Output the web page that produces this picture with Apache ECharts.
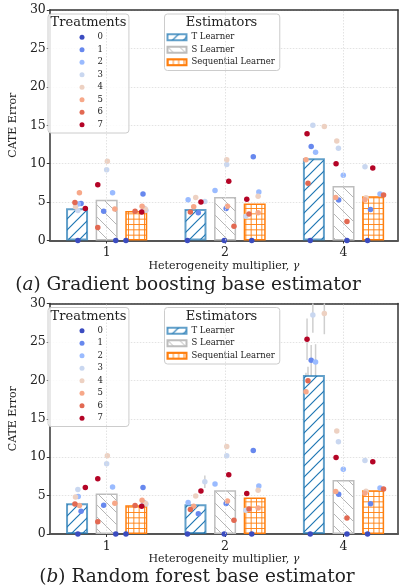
<!DOCTYPE html>
<html>
<head>
<meta charset="utf-8">
<script src="https://cdn.jsdelivr.net/npm/echarts@6/dist/echarts.min.js"></script>
<style>
html, body { margin: 0; padding: 0; background: #fff; }
#main { width: 399px; height: 588px; }
</style>
</head>
<body>
<div id="main"></div>
<script>
const groups = ['1', '2', '4'];
const estimators = ['T Learner', 'S Learner', 'Sequential Learner'];
const treatments = ['0', '1', '2', '3', '4', '5', '6', '7'];
const treatColors = ['#3b4cc0', '#6788ee', '#9abbff', '#c9d7f0', '#edd1c2', '#f7a889', '#e26952', '#b40426'];

// bar heights (mean CATE error), one per gamma group
const gbT = [4.2, 4.1, 10.7];
const gbS = [5.3, 5.65, 7.1];
const gbSeq = [3.85, 4.8, 5.75];
const rfT = [4.0, 3.87, 20.7];
const rfS = [5.26, 5.7, 7.04];
const rfSeq = [3.74, 4.74, 5.7];

// per-treatment errors, [group][treatment]
const gbPtsT = [[0, 4.8, 4.75, 3.9, 4.4, 6.2, 4.95, 4.15], [0, 3.6, 5.3, 5.06, 5.6, 4.4, 3.7, 5.0], [0, 12.25, 11.5, 15.0, 14.85, 10.5, 7.45, 13.9]];
const gbPtsS = [[0, 3.8, 6.2, 9.2, 10.3, 4.1, 1.7, 7.27], [0, 4.15, 6.5, 9.9, 10.5, 4.45, 1.86, 7.7], [0, 5.28, 8.5, 12.0, 12.95, 5.6, 2.47, 10.0]];
const gbPtsSeq = [[0, 6.06, 4.2, 3.95, 4.1, 4.45, 3.8, 3.7], [0, 10.9, 6.3, 3.16, 5.75, 3.6, 3.46, 5.37], [0, 4.03, 6.06, 9.6, 5.55, 5.3, 5.93, 9.44]];
const rfPtsT = [[0, 2.96, 4.87, 5.78, 4.8, 3.7, 3.9, 6.04], [0, 2.65, 4.1, 6.8, 4.96, 3.6, 3.2, 5.6], [0, 22.6, 22.4, 28.5, 28.7, 18.5, 19.96, 25.35]];
const rfPtsS = [[0, 3.74, 6.13, 9.13, 10.2, 4.0, 1.6, 7.2], [0, 3.96, 6.5, 10.2, 11.4, 4.3, 1.78, 7.7], [0, 5.17, 8.43, 12.0, 13.4, 5.52, 2.09, 9.96]];
const rfPtsSeq = [[0, 6.05, 4.1, 3.9, 4.0, 4.4, 3.7, 3.6], [0, 10.87, 6.26, 3.1, 5.7, 3.4, 3.26, 5.26], [0, 3.95, 6.0, 9.57, 5.55, 5.3, 5.87, 9.4]];
// error bar half-lengths (only visible for the random forest T learner)
const gbErrT = [[0, 0, 0, 0, 0, 0, 0, 0], [0, 0, 0, 0, 0, 0, 0, 0], [0, 0, 0, 0, 0, 0, 0, 0]];
const rfErrT = [[0, 0, 0, 0, 0, 0, 0, 0], [0, 0, 0, 0.8, 0, 0, 0, 0], [0, 2.0, 2.3, 2.3, 2.7, 2.5, 1.8, 2.7]];

// dot jitter, in group units from the group centre
const jitT = [[-0.243, -0.216, -0.240, -0.243, -0.263, -0.230, -0.268, -0.180], [-0.318, -0.226, -0.312, -0.171, -0.248, -0.265, -0.293, -0.204], [-0.281, -0.273, -0.236, -0.259, -0.162, -0.317, -0.300, -0.308]];
const jitS = [[0.077, -0.025, 0.050, 0.0, 0.006, 0.069, -0.075, -0.075], [-0.007, 0.009, -0.085, 0.014, 0.014, 0.020, 0.075, 0.031], [0.029, -0.041, -0.002, -0.043, -0.057, -0.066, 0.029, -0.063]];
const jitSeq = [[0.163, 0.307, 0.315, 0.332, 0.326, 0.299, 0.240, 0.296], [0.225, 0.238, 0.285, 0.175, 0.279, 0.279, 0.202, 0.183], [0.203, 0.228, 0.308, 0.181, 0.19, 0.18, 0.338, 0.247]];
const barOffset = [-0.25, 0, 0.25];

const SERIF = "'DejaVu Serif', serif";

function tile(size, draw) {
  const c = document.createElement('canvas');
  c.width = size; c.height = size;
  const ctx = c.getContext('2d');
  ctx.fillStyle = '#fff';
  ctx.fillRect(0, 0, size, size);
  draw(ctx, size);
  return { image: c, repeat: 'repeat' };
}
function segs(ctx, list) {
  ctx.beginPath();
  list.forEach(s => { ctx.moveTo(s[0], s[1]); ctx.lineTo(s[2], s[3]); });
  ctx.stroke();
}
const patT = tile(11, (ctx, s) => {
  ctx.strokeStyle = '#1f77b4'; ctx.lineWidth = 1.2;
  segs(ctx, [[-1, s + 1, s + 1, -1], [-1, 1, 1, -1], [s - 1, s + 1, s + 1, s - 1]]);
});
const patS = tile(12, (ctx, s) => {
  ctx.strokeStyle = '#b5b5b5'; ctx.lineWidth = 1;
  segs(ctx, [[-1, -1, s + 1, s + 1], [s - 1, -1, s + 1, 1], [-1, s - 1, 1, s + 1]]);
});
const patSeq = tile(16, (ctx, s) => {
  ctx.strokeStyle = 'rgba(255,127,14,0.9)'; ctx.lineWidth = 1;
  const l = [];
  [0.5, 5.83, 11.17].forEach(p => { l.push([p, 0, p, s]); l.push([0, p, s, p]); });
  segs(ctx, l);
});
const barStyles = [
  { color: patT, borderColor: 'rgba(31,119,180,0.7)', borderWidth: 2 },
  { color: patS, borderColor: '#bdbdbd', borderWidth: 1.5 },
  { color: patSeq, borderColor: '#ff7f0e', borderWidth: 1.5 }
];

const gridTops = [10, 303.5];

function plotSeries(p, bars, pts, jits, errs) {
  const out = [];
  // error bars + vertical grid lines
  const errData = [];
  errs.forEach((row, g) => row.forEach((e, t) => {
    errData.push([g + jits[0][g][t], pts[0][g][t], e]);
  }));
  out.push({
    type: 'custom', xAxisIndex: p, yAxisIndex: p, z: 1, silent: true,
    data: errData,
    renderItem: function (params, api) {
      const e = api.value(2);
      if (!e) return null;
      const x = api.value(0), v = api.value(1);
      const a = api.coord([x, Math.min(v + e, 30)]);
      const b = api.coord([x, v - e]);
      return { type: 'line', shape: { x1: a[0], y1: a[1], x2: b[0], y2: b[1] },
        style: { stroke: '#cfcfcf', lineWidth: 1.5 } };
    },
    markLine: {
      silent: true, symbol: 'none', label: { show: false },
      lineStyle: { color: '#dcdcdc', type: [1.5, 1.5], width: 0.8 },
      data: [{ xAxis: 0 }, { xAxis: 1 }, { xAxis: 2 }]
    }
  });
  bars.forEach((vals, k) => {
    out.push({
      type: 'bar', name: estimators[k], xAxisIndex: p, yAxisIndex: p,
      barWidth: 22, barGap: '-100%', z: 2, silent: true,
      data: vals.map((v, g) => [g + barOffset[k], v]),
      itemStyle: barStyles[k]
    });
  });
  treatments.forEach((name, t) => {
    const d = [];
    pts.forEach((est, k) => est.forEach((row, g) => d.push([g + jits[k][g][t], row[t]])));
    out.push({
      type: 'scatter', name: name, xAxisIndex: p, yAxisIndex: p, z: 4, silent: true,
      symbolSize: 5.5, itemStyle: { color: treatColors[t], opacity: 1 },
      data: d
    });
  });
  return out;
}

const jits = [jitT, jitS, jitSeq];
const series = [].concat(
  plotSeries(0, [gbT, gbS, gbSeq], [gbPtsT, gbPtsS, gbPtsSeq], jits, gbErrT),
  plotSeries(1, [rfT, rfS, rfSeq], [rfPtsT, rfPtsS, rfPtsSeq], jits, rfErrT)
);

const legendBox = {
  orient: 'vertical', selectedMode: false, itemGap: 1,
  borderColor: '#cccccc', borderWidth: 1, borderRadius: 3,
  backgroundColor: 'rgba(255,255,255,0.85)'
};
const legendText = { fontFamily: SERIF, fontSize: 8.5, color: '#222', lineHeight: 11.5 };
const legends = [];
const texts = [];
gridTops.forEach((top, p) => {
  legends.push(Object.assign({}, legendBox, {
    left: 48, top: top + 4, data: treatments, icon: 'circle',
    itemWidth: 5, itemHeight: 5, padding: [17.5, 26, 2.5, 31.5],
    textStyle: Object.assign({ padding: [0, 0, 0, 8] }, legendText)
  }));
  legends.push(Object.assign({}, legendBox, {
    left: 164.5, top: top + 4, data: estimators, icon: 'rect',
    itemWidth: 19, itemHeight: 6, padding: [17.5, 5, 2.5, 2],
    textStyle: legendText
  }));
  texts.push({ type: 'text', x: 88.5, y: top + 13, z: 10,
    style: { text: 'Treatments', textAlign: 'center', textVerticalAlign: 'middle', font: "13px 'DejaVu Serif'", fill: '#222' } });
  texts.push({ type: 'text', x: 221.5, y: top + 13, z: 10,
    style: { text: 'Estimators', textAlign: 'center', textVerticalAlign: 'middle', font: "13px 'DejaVu Serif'", fill: '#222' } });
});
texts.push({ type: 'text', x: 188, y: 285, style: {
  text: '({i|a}) Gradient boosting base estimator', textAlign: 'center', textVerticalAlign: 'middle',
  font: "18.5px 'DejaVu Serif'", fill: '#222', rich: { i: { font: "italic 18.5px 'DejaVu Serif'", fill: '#222' } } } });
texts.push({ type: 'text', x: 197, y: 577, style: {
  text: '({i|b}) Random forest base estimator', textAlign: 'center', textVerticalAlign: 'middle',
  font: "18.5px 'DejaVu Serif'", fill: '#222', rich: { i: { font: "italic 18.5px 'DejaVu Serif'", fill: '#222' } } } });

// plain frame axes on the top and right of each panel
const topAxes = gridTops.map((t, p) => ({
  type: 'value', gridIndex: p, position: 'top', min: -0.48, max: 2.46,
  axisLine: { show: true, onZero: false, lineStyle: { color: '#333', width: 1.5 } },
  axisTick: { show: false }, axisLabel: { show: false }, splitLine: { show: false }
}));
const rightAxes = gridTops.map((t, p) => ({
  type: 'value', gridIndex: p, position: 'right', min: 0, max: 30,
  axisLine: { show: true, onZero: false, lineStyle: { color: '#333', width: 1.5 } },
  axisTick: { show: false }, axisLabel: { show: false }, splitLine: { show: false }
}));

const option = {
  animation: false,
  backgroundColor: '#fff',
  grid: gridTops.map(top => ({ left: 43, right: 1, top: top, height: 230.5 })),
  xAxis: gridTops.map((t, p) => ({
    type: 'value', gridIndex: p, min: -0.48, max: 2.46, position: 'bottom',
    axisLine: { show: true, onZero: false, lineStyle: { color: '#555', width: 2 } },
    axisTick: { show: true, customValues: [0, 1, 2], length: 3, lineStyle: { color: '#333' } },
    axisLabel: { customValues: [0, 1, 2], formatter: v => groups[Math.round(v)], fontFamily: SERIF, fontSize: 12.5, color: '#222', margin: 6 },
    splitLine: { show: false },
    name: 'Heterogeneity multiplier, {g|γ}', nameLocation: 'middle', nameGap: 18,
    nameTextStyle: { fontFamily: SERIF, fontSize: 11, color: '#222', rich: { g: { fontFamily: SERIF, fontSize: 11, fontStyle: 'italic', color: '#222' } } }
  })).concat(topAxes),
  yAxis: gridTops.map((t, p) => ({
    type: 'value', gridIndex: p, min: 0, max: 30, interval: 5, position: 'left',
    axisLine: { show: true, onZero: false, lineStyle: { color: '#333', width: 1.5 } },
    axisTick: { show: true, length: 3, lineStyle: { color: '#333' } },
    axisLabel: { fontFamily: SERIF, fontSize: 12.5, color: '#222', margin: 4 },
    splitLine: { show: true, lineStyle: { color: '#dcdcdc', type: [1.5, 1.5], width: 0.8 } },
    name: 'CATE Error', nameLocation: 'middle', nameGap: 24,
    nameTextStyle: { fontFamily: SERIF, fontSize: 11, color: '#222' }
  })).concat(rightAxes),
  legend: legends,
  graphic: texts,
  series: series
};

const chart = echarts.init(document.getElementById('main'));
chart.setOption(option);
window.addEventListener('resize', function () { chart.resize(); });
</script>
</body>
</html>
